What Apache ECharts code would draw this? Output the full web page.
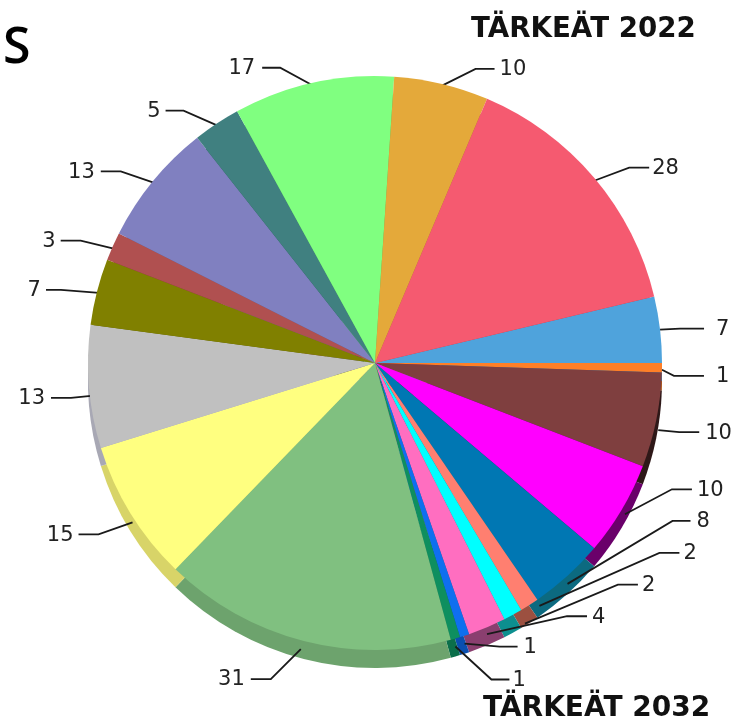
<!DOCTYPE html>
<html>
<head>
<meta charset="utf-8">
<style>html,body{margin:0;padding:0;background:#fff}#c{width:739px;height:720px}</style>
<script src="https://cdn.jsdelivr.net/npm/echarts@6/dist/echarts.min.js"></script>
</head>
<body>
<div id="c"></div>
<script>
const values = [7,1,10,10,8,2,2,4,1,1,31,15,13,7,3,13,5,17,10,28];
const topColors = ['#4FA3DC','#FF7F27','#7F3F3F','#FF00FF','#0077B3','#FF7F70','#00FFFF','#FF6EC0','#0F6FEF','#0E8F5F','#80C080','#FFFF80','#C0C0C0','#808000','#B05050','#8080C0','#408080','#80FF80','#E4A93A','#F55A70'];
const sideColors = ['#3A7AA5','#B05A1C','#2E1818','#6A006A','#0C6A80','#9C5040','#0D8F8F','#8A3F6F','#0A4FB0','#0B6F4A','#6DA36D','#D8D468','#A8A8B4','#5A5A00','#7A3838','#5A5A88','#2D5A5A','#5AB35A','#A07828','#AC3F4E'];
const elbowDx = [20,12,23,50,105,130,105,80,35,36,-33,-32,-18,-36,-32,-32,-33,-33,34,35];
const elbowDy = [-1,8,12,-20,-55,-52,-30,-11,11,41,38,21,11,-2,-6,-10,-13,-15,-15,-10];
const tailLen = [24,30,20,20,18,20,20,20,18,18,20,20,20,15,20,20,18,18,19,20];
const startDx = [0,0,2,3,0,10,12,0,0,0,-3,2,2,2,1,3,1,2,0,0];
const startDy = [0,2,10,5,8,1,9,7,8,8,8,9,9,1,2,2,2,4,2,3];
const labelGap = [12,12,6,5,6,4,4,5,6,3,6,5,6,5,5,6,5,7,5,3];
const titleTop = 'TÄRKEÄT 2022';
const titleBottom = 'TÄRKEÄT 2032';
const cornerLetter = 'S';

const chart = echarts.init(document.getElementById('c'), null, {renderer:'canvas'});
const startAngle = 13.4;
function pieData(colors){
  return values.map((v,i)=>({value:v,itemStyle:{color:colors[i]}}));
}
chart.setOption({
  animation:false,
  backgroundColor:'#fff',
  title:[
    {text:cornerLetter,left:-2,top:19,textStyle:{fontFamily:'Open Sans',fontSize:50,fontWeight:600,color:'#000'}},
    {text:titleTop,left:466,top:11,textStyle:{fontFamily:'DejaVu Sans',fontSize:27.7,fontWeight:'bold',color:'#111'}},
    {text:titleBottom,left:478,top:690,textStyle:{fontFamily:'DejaVu Sans',fontSize:28,fontWeight:'bold',color:'#111'}}
  ],
  series:[
    {type:'pie',name:'side',z:1,center:[375,381],radius:287,startAngle,clockwise:true,silent:true,
     avoidLabelOverlap:false,label:{show:false},labelLine:{show:false},data:pieData(sideColors)},
    {type:'pie',name:'top',z:2,center:[375,363],radius:287,startAngle,clockwise:true,
     avoidLabelOverlap:false,
     label:{show:true,position:'outside',formatter:'{c}',fontFamily:'DejaVu Sans',fontSize:21,color:'#222'},
     labelLine:{show:true,length:15,length2:15,lineStyle:{color:'#1a1a1a',width:1.8}},
     labelLayout:function(params){
       const i=params.dataIndex;
       const p=params.labelLinePoints;
       if(!p) return {};
       const s=[p[0][0]+startDx[i],p[0][1]+startDy[i]];
       const e=[p[0][0]+elbowDx[i],p[0][1]+elbowDy[i]];
       const sign=elbowDx[i]>=0?1:-1;
       const t=[e[0]+sign*tailLen[i],e[1]];
       return {x:t[0]+sign*labelGap[i],y:t[1]+1,align:sign>0?'left':'right',verticalAlign:'middle',labelLinePoints:[s,e,t]};
     },
     data:pieData(topColors)}
  ]
});
</script>
</body>
</html>
